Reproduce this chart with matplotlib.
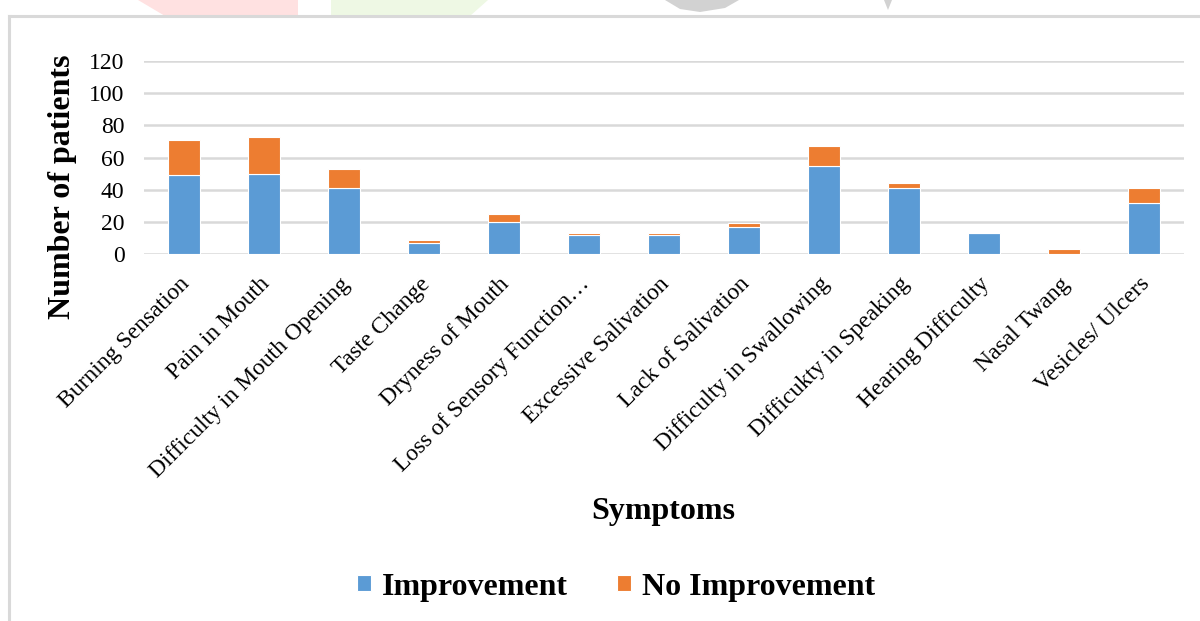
import matplotlib.pyplot as plt
import matplotlib.transforms as mtransforms
import numpy as np
from matplotlib.lines import Line2D
from matplotlib.patches import Polygon

SYMPTOMS = [
    'Burning Sensation', 'Pain in Mouth', 'Difficulty in Mouth Opening',
    'Taste Change', 'Dryness of Mouth', 'Loss of Sensory Function\u2026',
    'Excessive Salivation', 'Lack of Salivation', 'Difficulty in Swallowing',
    'Difficukty in Speaking', 'Hearing Difficulty', 'Nasal Twang',
    'Vesicles/ Ulcers',
]
IMPROVEMENT = [49, 50, 41, 7, 20, 12, 12, 17, 55, 41, 13, 0, 32]
NO_IMPROVEMENT = [22, 23, 12, 2, 5, 1, 1, 2, 12, 3, 0, 3, 9]
Y_TICKS = [0, 20, 40, 60, 80, 100, 120]

BLUE = '#5B9BD5'
ORANGE = '#ED7D31'
GRID = '#D9D9D9'
BAR_WIDTH = 0.4
W, H = 1200, 621

plt.rcParams['font.family'] = ['Liberation Serif', 'DejaVu Serif']

fig = plt.figure(figsize=(W / 100, H / 100), dpi=100)
ax = fig.add_axes([144 / W, 1 - 254 / H, 1040 / W, 193 / H])


def px(x, y):
    # pixel position (from top-left) to figure fraction
    return x / W, 1 - y / H


# faint page decoration above the chart box
for pts, col in [
    ([(138, 0), (298, 0), (298, 16), (165, 16)], '#FFE1E1'),
    ([(331, 0), (488, 0), (470, 16), (331, 16)], '#EEF8E4'),
    ([(665, 0), (739, 0), (725, 8), (700, 12), (680, 9)], '#D2D2D2'),
    ([(884, 0), (892, 0), (888, 10)], '#D2D2D2'),
]:
    fig.patches.append(Polygon([px(*p) for p in pts], closed=True,
                               transform=fig.transFigure, facecolor=col,
                               edgecolor='none'))

# chart box: only its top and left edges are inside the image
fig.lines.append(Line2D([9 / W, 1.0], [1 - 16 / H] * 2, transform=fig.transFigure,
                        color=GRID, linewidth=2.2))
fig.lines.append(Line2D([9 / W] * 2, [0, 1 - 16 / H], transform=fig.transFigure,
                        color=GRID, linewidth=2.2))

x = np.arange(len(SYMPTOMS))
imp = np.array(IMPROVEMENT)
no_imp = np.array(NO_IMPROVEMENT)
ax.bar(x, imp, BAR_WIDTH, color=BLUE, edgecolor='white', linewidth=0.8,
       label='Improvement', zorder=3)
ax.bar(x, no_imp, BAR_WIDTH, bottom=imp, color=ORANGE, edgecolor='white',
       linewidth=0.8, label='No Improvement', zorder=3)

ax.set_xlim(-0.5, len(SYMPTOMS) - 0.5)
ax.set_ylim(0, 120)
ax.set_yticks(Y_TICKS)
ax.yaxis.grid(True, color=GRID, linewidth=1.8, zorder=0)
ax.set_axisbelow(True)
for side in ['top', 'right', 'left', 'bottom']:
    ax.spines[side].set_visible(False)
ax.tick_params(axis='both', length=0, labelsize=17)
ax.tick_params(axis='y', pad=14)
ax.set_xticks(x)
ax.set_xticklabels(SYMPTOMS, rotation=45, ha='right', rotation_mode='anchor')
ax.tick_params(axis='x', pad=14)
# nudge the slanted labels a little to the left
shift = mtransforms.ScaledTranslation(-5 / 100, 0, fig.dpi_scale_trans)
for lbl in ax.get_xticklabels():
    lbl.set_transform(lbl.get_transform() + shift)

ax.set_ylabel('Number of patients', fontsize=23, fontweight='bold')
ax.yaxis.set_label_coords(-0.064, 0.347)
fig.text(*px(663, 512), 'Symptoms', fontsize=23, fontweight='bold',
         ha='center', va='center')

fig.legend(loc='center', bbox_to_anchor=px(616, 587), ncol=2, frameon=False,
           prop={'size': 23, 'weight': 'bold'}, handlelength=0.42,
           handleheight=0.42, handletextpad=0.35, columnspacing=1.55)

fig.savefig('out.png', dpi=100)
